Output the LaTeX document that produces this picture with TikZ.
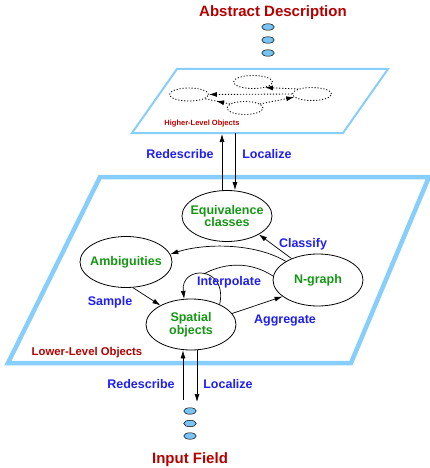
\documentclass[tikz,border=0pt]{standalone}
\usepackage{fontspec}
\setmainfont{Liberation Sans}
\usetikzlibrary{arrows.meta,shapes.geometric,decorations.markings,calc}
\definecolor{planeblue}{RGB}{135,206,250}
\definecolor{dotblue}{RGB}{120,196,245}
\definecolor{objgreen}{RGB}{20,150,20}
\definecolor{lblblue}{RGB}{30,30,245}
\definecolor{darkred}{RGB}{180,0,0}
\begin{document}
\begin{tikzpicture}[x=1pt,y=-1pt,
  obj/.style={ellipse,draw,line width=0.8pt,minimum width=90pt,minimum height=51pt,inner sep=0pt},
  objtext/.style={text=objgreen,align=center,inner sep=0pt,font=\fontsize{12.5}{12.7}\selectfont\bfseries},
  lbl/.style={text=lblblue,inner sep=0pt,font=\fontsize{12.5}{14}\selectfont\bfseries},
  titlelbl/.style={text=darkred,inner sep=0pt,font=\fontsize{15}{17}\selectfont\bfseries},
  planelbl/.style={text=darkred,inner sep=0pt,font=\bfseries},
  arr/.style={line width=0.7pt,-{Latex[length=8pt,width=5pt]}},
  dotpat/.style={line width=0.85pt,dash pattern=on 1.1pt off 1.9pt},
  dotell/.style={ellipse,draw,dotpat,minimum width=39pt,minimum height=13pt,inner sep=0pt},
  dotarr/.style={dotpat,-{Latex[length=8pt,width=5pt]}},
  midarr/.style={dotpat,postaction={decorate},
    decoration={markings,mark=at position 0.55 with {\arrow{Latex[length=8pt,width=5pt]}}}},
  stackdot/.style={ellipse,draw,fill=dotblue,line width=0.5pt,minimum width=12.5pt,minimum height=6.5pt,inner sep=0pt},
  plane/.style={draw=planeblue,line join=miter}]
\useasboundingbox (0,0) rectangle (430,468);

% ---------- upper level ----------
\node[titlelbl] (abs) at (273,13) {Abstract Description};
\node[stackdot] (ad1) at (268,27) {};
\node[stackdot] (ad2) at (268,40) {};
\node[stackdot] (ad3) at (268,53) {};

\draw[plane,line width=2pt] (177,69) -- (388,69) -- (343,133) -- (132,133) -- cycle;
\node[planelbl,font=\fontsize{7.5}{9}\selectfont\bfseries] (hlo) at (202,124) {Higher-Level Objects};

\node[dotell] (dt) at (253,82) {};
\node[dotell] (dl) at (189,94.5) {};
\node[dotell] (dr) at (312,94) {};
\node[dotell,minimum width=36pt] (db) at (245,108) {};
\draw[dotarr] (dr.west) -- (dl.east);
\draw[dotarr] (dr.160) -- (dt.-25);
\draw[dotarr] (db.15) -- (dr.190);
\draw[midarr] (db.165) -- (dl.-15);

% ---------- connectors between levels (top) ----------
\coordinate (hu) at (222,134);
\coordinate (hd) at (235,133);
\node[lbl] (redtop) at (180,154) {Redescribe};
\node[lbl] (loctop) at (267,154) {Localize};

% ---------- lower level ----------
\draw[plane,line width=4.5pt] (100,177) -- (429,177) -- (351,363) -- (8,363) -- cycle;
\node[planelbl,font=\fontsize{11.3}{13}\selectfont\bfseries] (llo) at (87,353) {Lower-Level Objects};

\node[obj,label={[objtext]center:Equivalence\\classes}] (eq) at (227,216) {};
\node[obj,minimum width=92pt,label={[objtext]center:Ambiguities}] (amb) at (126,262) {};
\node[obj,minimum height=52pt,label={[objtext]center:N-graph}] (ng) at (318,280) {};
\node[obj,label={[objtext]center:Spatial\\objects}] (sp) at (191,324.5) {};

\draw[arr] (eq.north -| hu) -- (hu);
\draw[arr] (hd) -- (hd |- eq.north);

\draw[arr] (ng.141) -- (eq.-30);
\draw[arr] (ng.150) .. controls (255,243) and (205,243) .. (amb.10);
\draw[arr] (amb.-75) -- (sp.148);
\draw[arr] (sp.15) -- (ng.205);
\coordinate (join) at (203.75,274);
\draw[line width=0.7pt] (ng.175) .. controls (245,258) and (218,266) .. (join);
\draw[arr] (sp.35) .. controls (228,265) and (180,265) .. (sp.105);

\node[lbl] (cls) at (303,244) {Classify};
\node[lbl] (smp) at (110,302) {Sample};
\node[lbl] (itp) at (229,282) {Interpolate};
\node[lbl] (agg) at (285,321) {Aggregate};

% ---------- connectors between levels (bottom) ----------
\coordinate (lu) at (183,400);
\coordinate (ld) at (197,402);
\draw[arr] (lu) -- (lu |- sp.south);
\draw[arr] (ld |- sp.south) -- (ld);
\node[lbl] (redbot) at (141,384) {Redescribe};
\node[lbl] (locbot) at (228,384) {Localize};

\node[stackdot] (if1) at (190,411) {};
\node[stackdot] (if2) at (190,423.5) {};
\node[stackdot] (if3) at (190,436) {};
\node[titlelbl] (inp) at (190,460) {Input Field};
\end{tikzpicture}
\end{document}
